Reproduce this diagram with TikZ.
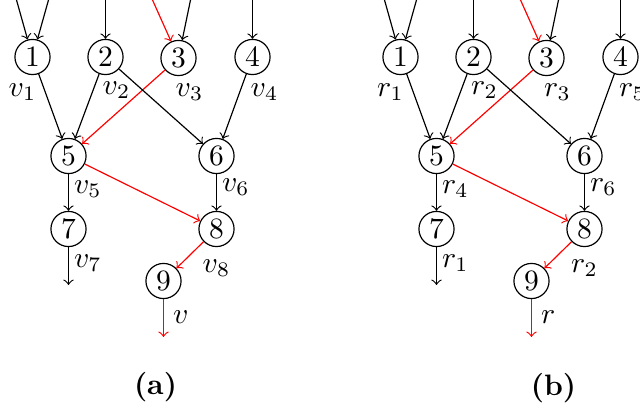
\documentclass[tikz,border=0pt]{standalone}

\begin{document}
\begin{tikzpicture}[x=0.0119cm, y=-0.0119cm,
        uzel/.style={circle, draw, inner sep=0pt, minimum size=11.9pt},
        cesta/.style={->, red}]
        \clip (-0.5,0) rectangle (639.5,410);

        % (a) uzly
        \node[uzel] (a1) at (32,57) {1};
        \node[uzel] (a2) at (105,57) {2};
        \node[uzel] (a3) at (178,58) {3};
        \node[uzel] (a4) at (252,57) {4};
        \node[uzel] (a5) at (68,156) {5};
        \node[uzel] (a6) at (216,156) {6};
        \node[uzel] (a7) at (68,229) {7};
        \node[uzel] (a8) at (216,229) {8};
        \node[uzel] (a9) at (163,281) {9};

        % vstupy a výstupy
        \coordinate (a1l) at (16,0);
        \coordinate (a1r) at (48,0);
        \coordinate (a2i) at (105,0);
        \coordinate (a3l) at (152,0);
        \coordinate (a3r) at (190,0);
        \coordinate (a4i) at (252,0);
        \coordinate (a7o) at (68,285);
        \coordinate (a9o) at (163,337);
        \draw[->] (a1l) -- (a1);
        \draw[->] (a1r) -- (a1);
        \draw[->] (a2i) -- (a2);
        \draw[cesta] (a3l) -- (a3);
        \draw[->] (a3r) -- (a3);
        \draw[->] (a4i) -- (a4);
        \draw[->] (a7) -- (a7o);
        \draw[cesta] (a9) -- (a9o);

        % hrany
        \draw[->] (a1) -- (a5);
        \draw[->] (a2) -- (a5);
        \draw[cesta] (a3) -- (a5);
        \draw[->] (a2) -- (a6);
        \draw[->] (a4) -- (a6);
        \draw[->] (a5) -- (a7);
        \draw[cesta] (a5) -- (a8);
        \draw[->] (a6) -- (a8);
        \draw[cesta] (a8) -- (a9);

        % popisky
        \node (va1) at (22,92) {$v_1$};
        \node (va2) at (116,90) {$v_2$};
        \node (va3) at (189,92) {$v_3$};
        \node (va4) at (264,92) {$v_4$};
        \node[anchor=west, inner sep=1pt] (va5) at (70,189) {$v_5$};
        \node[anchor=west, inner sep=1pt] (va6) at (218,187) {$v_6$};
        \node[anchor=west, inner sep=1pt] (va7) at (70,263) {$v_7$};
        \node (va8) at (216,268) {$v_8$};
        \node[anchor=west, inner sep=1pt] (va9) at (169,317) {$v$};
        \node (capa) at (155,387) {\textbf{(a)}};

        % (b) uzly
        \node[uzel] (b1) at (400,57) {1};
        \node[uzel] (b2) at (473,57) {2};
        \node[uzel] (b3) at (546,58) {3};
        \node[uzel] (b4) at (620,57) {4};
        \node[uzel] (b5) at (436,156) {5};
        \node[uzel] (b6) at (584,156) {6};
        \node[uzel] (b7) at (436,229) {7};
        \node[uzel] (b8) at (584,229) {8};
        \node[uzel] (b9) at (531,281) {9};

        % vstupy a výstupy
        \coordinate (b1l) at (384,0);
        \coordinate (b1r) at (416,0);
        \coordinate (b2i) at (473,0);
        \coordinate (b3l) at (520,0);
        \coordinate (b3r) at (558,0);
        \coordinate (b4i) at (620,0);
        \coordinate (b7o) at (436,285);
        \coordinate (b9o) at (531,337);
        \draw[->] (b1l) -- (b1);
        \draw[->] (b1r) -- (b1);
        \draw[->] (b2i) -- (b2);
        \draw[cesta] (b3l) -- (b3);
        \draw[->] (b3r) -- (b3);
        \draw[->] (b4i) -- (b4);
        \draw[->] (b7) -- (b7o);
        \draw[cesta] (b9) -- (b9o);

        % hrany
        \draw[->] (b1) -- (b5);
        \draw[->] (b2) -- (b5);
        \draw[cesta] (b3) -- (b5);
        \draw[->] (b2) -- (b6);
        \draw[->] (b4) -- (b6);
        \draw[->] (b5) -- (b7);
        \draw[cesta] (b5) -- (b8);
        \draw[->] (b6) -- (b8);
        \draw[cesta] (b8) -- (b9);

        % popisky
        \node (rb1) at (390,92) {$r_1$};
        \node (rb2) at (484,90) {$r_2$};
        \node (rb3) at (557,92) {$r_3$};
        \node (rb4) at (632,92) {$r_5$};
        \node[anchor=west, inner sep=1pt] (rb5) at (438,189) {$r_4$};
        \node[anchor=west, inner sep=1pt] (rb6) at (586,187) {$r_6$};
        \node[anchor=west, inner sep=1pt] (rb7) at (438,263) {$r_1$};
        \node (rb8) at (584,268) {$r_2$};
        \node[anchor=west, inner sep=1pt] (rb9) at (537,317) {$r$};
        \node (capb) at (553,388) {\textbf{(b)}};
    \end{tikzpicture}
\end{document}
